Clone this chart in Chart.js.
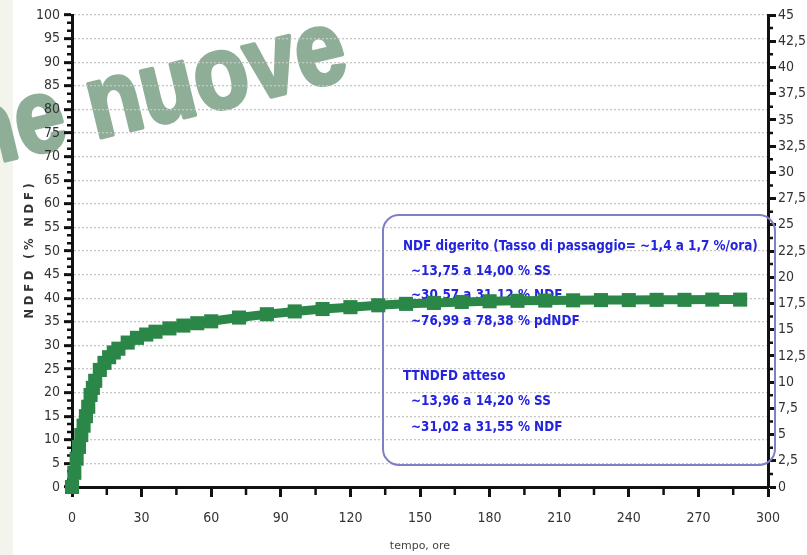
<!DOCTYPE html>
<html><head><meta charset="utf-8">
<script src="https://cdn.jsdelivr.net/npm/chart.js@4.4.1/dist/chart.umd.min.js"></script>
<style>html,body{margin:0;padding:0;background:#fff;overflow:hidden}#wrap{width:807px;height:555px;position:relative}</style>
</head><body><div id="wrap"><canvas id="c" width="807" height="555" style="width:807px;height:555px"></canvas></div>
<script>
// ---- data ----
const hours = [0,1,2,3,4,5,6,7,8,9,10,12,14,16,18,20,24,28,32,36,42,48,54,60,72,84,96,108,120,132,144,156,168,180,192,204,216,228,240,252,264,276,288];
const ndfd  = [0,3,6,8.5,11,13,15,17,19.5,21,22.5,24.8,26.3,27.5,28.5,29.3,30.6,31.6,32.3,32.9,33.6,34.2,34.7,35.1,35.9,36.6,37.2,37.7,38.1,38.5,38.8,39.0,39.2,39.35,39.45,39.5,39.55,39.6,39.6,39.65,39.65,39.7,39.7];
const xTitle = 'tempo, ore';
const yTitle = 'NDFD (% NDF)';
const noteLines = [
  'NDF digerito (Tasso di passaggio= ~1,4 a 1,7 %/ora)',
  '  ~13,75 a 14,00 % SS',
  '  ~30,57 a 31,12 % NDF',
  '  ~76,99 a 78,38 % pdNDF',
  '',
  'TTNDFD atteso',
  '  ~13,96 a 14,20 % SS',
  '  ~31,02 a 31,55 % NDF'
];
const watermarkPre = 'ne ';
const watermarkMain = 'nuove';

const NARROW = '"Liberation Sans Narrow","DejaVu Sans Condensed","Roboto Condensed",sans-serif';

const bgPlugin = {
  id: 'bg',
  beforeDraw(chart) {
    const ctx = chart.ctx;
    ctx.save();
    ctx.fillStyle = '#ffffff';
    ctx.fillRect(0, 0, chart.width, chart.height);
    ctx.fillStyle = '#f3f4ec';
    ctx.fillRect(0, 0, 13, chart.height);

    // watermark (under axes and labels)
    const ang = -13.5 * Math.PI / 180;
    const sx = 0.86;
    ctx.font = 'bold 104px "Liberation Sans", Arial, sans-serif';
    const wPre = ctx.measureText(watermarkPre).width * sx;
    const ax = 95 - wPre * Math.cos(ang);
    const ay = 139 - wPre * Math.sin(ang);
    ctx.translate(ax, ay);
    ctx.rotate(ang);
    ctx.scale(sx, 1);
    ctx.fillStyle = '#8eae98';
    ctx.strokeStyle = '#8eae98';
    ctx.lineWidth = 4;
    ctx.lineJoin = 'round';
    ctx.textBaseline = 'alphabetic';
    ctx.strokeText(watermarkPre + watermarkMain, 0, 0);
    ctx.fillText(watermarkPre + watermarkMain, 0, 0);
    ctx.restore();
  }
};

const decoPlugin = {
  id: 'deco',
  beforeDatasetsDraw(chart) {
    const ctx = chart.ctx;
    const {x, y, y2} = chart.scales;
    ctx.save();
    // minor ticks
    ctx.strokeStyle = '#111';
    ctx.lineWidth = 2.5;
    ctx.beginPath();
    for (let v = 0; v < 100; v += 5) {
      for (let k = 1; k <= 2; k++) {
        const py = y.getPixelForValue(v + k * 5 / 3);
        ctx.moveTo(y.right - 5, py); ctx.lineTo(y.right, py);
      }
    }
    for (let v = 1.25; v < 45; v += 2.5) {
      const py = y2.getPixelForValue(v);
      ctx.moveTo(y2.left, py); ctx.lineTo(y2.left + 5, py);
    }
    for (let v = 15; v < 300; v += 30) {
      const px = x.getPixelForValue(v);
      ctx.moveTo(px, x.top); ctx.lineTo(px, x.top + 8);
    }
    ctx.stroke();

    // y title (letter-spaced)
    ctx.save();
    ctx.translate(30, 249);
    ctx.rotate(-Math.PI / 2);
    ctx.font = 'bold 11.5px "DejaVu Sans", sans-serif';
    try { ctx.letterSpacing = '3.8px'; } catch (e) {}
    ctx.fillStyle = '#333';
    ctx.textAlign = 'center';
    ctx.textBaseline = 'middle';
    ctx.fillText(yTitle, 0, 0);
    ctx.restore();

    // annotation box
    ctx.strokeStyle = '#7f7fc6';
    ctx.lineWidth = 2;
    ctx.beginPath();
    ctx.roundRect(383, 215, 392, 250, 16);
    ctx.stroke();
    let fs = 16;
    const weight = '600 ';
    ctx.font = weight + fs + 'px ' + NARROW;
    const w = ctx.measureText(noteLines[0]).width;
    fs = Math.max(11, Math.min(19, fs * 355 / w));
    ctx.font = weight + fs.toFixed(2) + 'px ' + NARROW;
    ctx.fillStyle = '#2424e0';
    ctx.textAlign = 'left';
    ctx.textBaseline = 'middle';
    const ys = [247, 272, 296, 322, 350, 377, 402, 428];
    noteLines.forEach((t, i) => {
      if (!t) return;
      const indent = t.startsWith('  ') ? 8 : 0;
      ctx.fillText(t.trim(), 403 + indent, ys[i]);
    });
    ctx.restore();
  }
};

new Chart(document.getElementById('c'), {
  type: 'line',
  data: {
    datasets: [{
      label: 'NDFD',
      data: hours.map((h, i) => ({x: h, y: ndfd[i]})),
      borderColor: '#2b8748',
      backgroundColor: '#2b8748',
      borderWidth: 9,
      pointStyle: 'rect',
      pointRadius: 3.6,
      pointHoverRadius: 3.6,
      tension: 0,
      clip: false,
      yAxisID: 'y'
    }]
  },
  options: {
    responsive: false,
    animation: false,
    devicePixelRatio: 1,
    layout: {padding: {top: 15, left: 0, right: 0, bottom: 0}},
    plugins: {legend: {display: false}, tooltip: {enabled: false}},
    scales: {
      x: {
        type: 'linear', min: 0, max: 300,
        afterFit(s) { s.height = 68; },
        ticks: {stepSize: 30, autoSkip: false, padding: 13, color: '#333', font: {family: NARROW, size: 14}, maxRotation: 0},
        grid: {drawOnChartArea: false, drawTicks: true, tickLength: 10, tickColor: '#111', tickWidth: 3},
        border: {color: '#111', width: 3},
        title: {display: true, text: xTitle, color: '#444', font: {family: '"DejaVu Sans", sans-serif', size: 11}, padding: {top: 0, bottom: 2}}
      },
      y: {
        position: 'left', min: 0, max: 100,
        afterFit(s) { s.width = 72; },
        ticks: {stepSize: 5, autoSkip: false, padding: 4, color: '#333', font: {family: NARROW, size: 14}},
        grid: {color: '#c6c6c6', lineWidth: 1.3, tickLength: 8, tickColor: '#111', tickWidth: 3},
        border: {color: '#111', width: 3, dash: [2, 2]}
      },
      y2: {
        position: 'right', min: 0, max: 45,
        afterFit(s) { s.width = 39; },
        ticks: {stepSize: 2.5, autoSkip: false, padding: 2, color: '#333', font: {family: NARROW, size: 14},
          callback: v => String(v).replace('.', ',')},
        grid: {drawOnChartArea: false, tickLength: 8, tickColor: '#111', tickWidth: 3},
        border: {color: '#111', width: 3}
      }
    }
  },
  plugins: [bgPlugin, decoPlugin]
});
</script></body></html>
